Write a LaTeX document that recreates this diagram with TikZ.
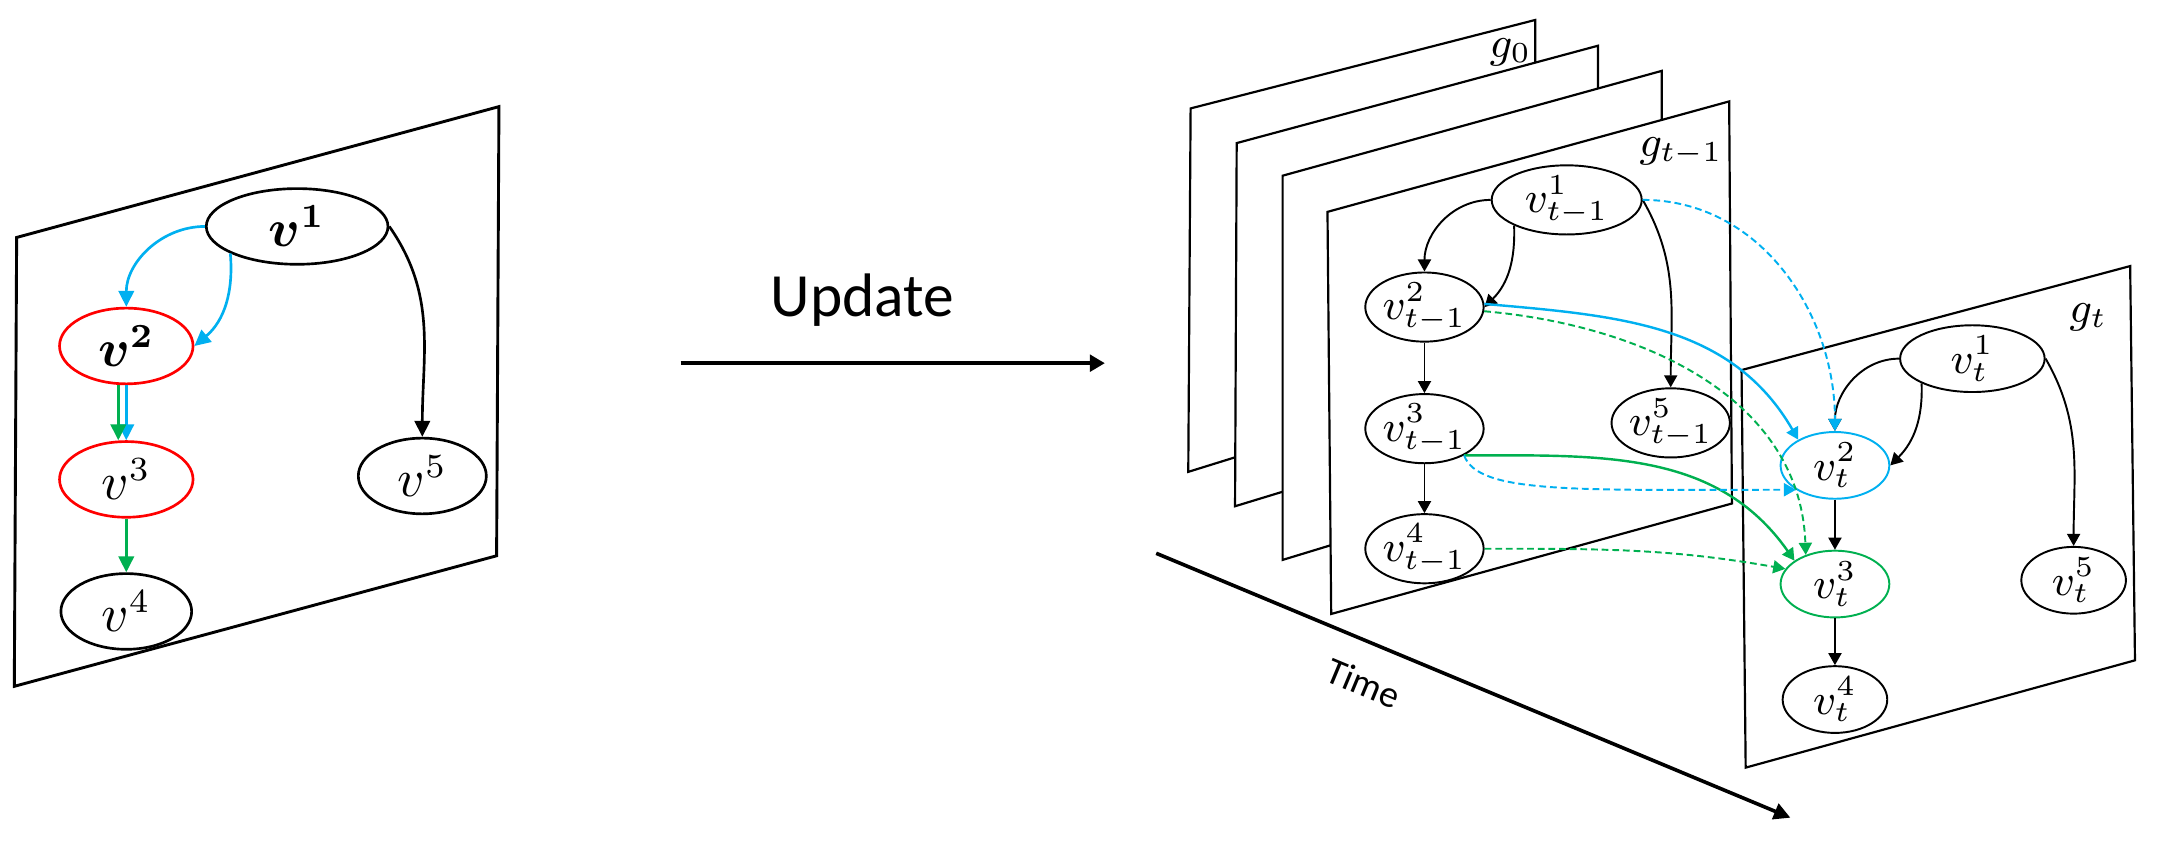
\documentclass[tikz,border=0pt]{standalone}
\usepackage{amsmath}
\usepackage{fontspec}
\newfontfamily\calibri{Carlito}
\usepackage{tikz}
\usetikzlibrary{arrows.meta,positioning,shapes.geometric}

\definecolor{myblue}{RGB}{0,176,240}
\definecolor{mygreen}{RGB}{0,176,80}

\tikzset{sheet/.style={draw, fill=white, line width=0.45pt, line join=miter}}
\tikzset{bigvert/.style={ellipse, draw, line width=0.55pt, inner sep=0pt,
		minimum width=0.97cm, minimum height=0.55cm, font=\fontsize{10.5}{12}\selectfont}}
\tikzset{boldvert/.style={bigvert, font=\fontsize{10.5}{12}\selectfont\boldmath}}
\tikzset{smallvert/.style={ellipse, draw, line width=0.4pt, inner sep=0pt,
		minimum width=0.8cm, minimum height=0.485cm, font=\fontsize{8.8}{10}\selectfont}}
\tikzset{glabel/.style={inner sep=0pt, font=\fontsize{8.7}{10}\selectfont}}
\tikzset{bigarr/.style={line width=0.55pt, -{Triangle[length=3.3pt,width=3.2pt]}}}
\tikzset{smallarr/.style={line width=0.4pt, -{Triangle[length=2.5pt,width=2.7pt]}}}
\tikzset{bluedash/.style={smallarr, myblue, dash pattern=on 1.4pt off 0.8pt}}
\tikzset{greendash/.style={smallarr, mygreen, dash pattern=on 1.4pt off 0.8pt}}

\begin{document}
\begin{tikzpicture}[x=0.01cm, y=0.01cm]
	\useasboundingbox (0,0) rectangle (1568,-620);

	% static graph
	\draw[sheet, line width=0.6pt] (12.1,-172.6) -- (362.7,-77.5) -- (361,-404) -- (10.4,-498.9) -- cycle;

	\node[boldvert, minimum width=1.32cm] (v1) at (216,-164.6) {$v^1$};
	\node[boldvert, draw=red] (v2) at (91.8,-251.5) {$v^2$};
	\node[bigvert, draw=red, below=0.4cm of v2] (v3) {$v^3$};
	\node[bigvert, minimum width=0.95cm, below=0.39cm of v3] (v4) {$v^4$};
	\node[bigvert, minimum width=0.93cm] (v5) at (307,-346) {$v^5$};

	\draw[bigarr, myblue] (v1.west) to[out=180,in=90] (v2.north);
	\draw[bigarr, myblue] (v1.202) to[out=-85,in=40] (v2.east);
	\draw[bigarr] (v1.east) to[out=-55,in=90] (v5.north);
	\draw[bigarr, myblue] (v2.south) -- (v3.north);
	\draw[bigarr, mygreen] ([xshift=-0.058cm]v2.south) -- ([xshift=-0.058cm]v3.north);
	\draw[bigarr, mygreen] (v3.south) -- (v4.north);

	% update
	\coordinate (ustart) at (494.8,-264);
	\coordinate (uend) at (803.2,-264);
	\draw[line width=0.8pt, -{Triangle[length=3.1pt,width=3.4pt]}] (ustart) -- (uend);
	\node[anchor=base, inner sep=0pt, font=\calibri\fontsize{12.7}{14}\selectfont] (upd) at (627,-230.2) {Update};

	% time axis
	\coordinate (tstart) at (840.5,-402.2);
	\coordinate (tend) at (1301.5,-594.4);
	\draw[line width=0.75pt, -{Triangle[length=3.4pt,width=3.4pt]}] (tstart) -- (tend);
	\node[rotate=-22.6, inner sep=0pt, font=\calibri\fontsize{7.8}{9}\selectfont] (tlbl) at (991,-496.7) {Time};

	% snapshots
	\draw[sheet] (865.5,-78.8) -- (1116,-14.5) -- (1116,-264.6) -- (863.8,-343) -- cycle;
	\draw[sheet] (899,-104) -- (1161.7,-33.2) -- (1161.7,-287.5) -- (897.8,-368) -- cycle;
	\draw[sheet] (932.4,-127.7) -- (1208,-51.5) -- (1208,-323) -- (932.4,-407) -- cycle;
	\draw[sheet] (965,-154) -- (1257,-73.7) -- (1259,-366) -- (967.7,-446.3) -- cycle;
	\draw[sheet] (1266,-269) -- (1548.5,-193.4) -- (1552,-480) -- (1269,-558) -- cycle;

	\node[glabel] (g0) at (1098,-38) {$g_0$};
	\node[glabel] (gprev) at (1222,-110) {$g_{t-1}$};
	\node[glabel] (gcur) at (1518,-231) {$g_t$};

	% snapshot t-1
	\node[smallvert, minimum width=1.09cm] (pv1) at (1138.9,-145.3) {$v^1_{t-1}$};
	\node[smallvert, minimum width=0.81cm] (pv2) at (1035.5,-223.2) {$v^2_{t-1}$};
	\node[smallvert, minimum width=0.81cm, below=0.367cm of pv2] (pv3) {$v^3_{t-1}$};
	\node[smallvert, minimum width=0.78cm, below=0.356cm of pv3] (pv4) {$v^4_{t-1}$};
	\node[smallvert, minimum width=0.775cm] (pv5) at (1214.5,-307.4) {$v^5_{t-1}$};

	\draw[smallarr] (pv1.west) to[out=180,in=90] (pv2.north);
	\draw[smallarr] (pv1.206) to[out=-88,in=45] (pv2.east);
	\draw[smallarr] (pv1.east) to[out=-60,in=90] (pv5.north);
	\draw[smallarr] (pv2.south) -- (pv3.north);
	\draw[smallarr] (pv3.south) -- (pv4.north);

	% snapshot t
	\node[smallvert, minimum width=1.05cm] (cv1) at (1433.8,-260.7) {$v^1_t$};
	\node[smallvert, minimum width=0.79cm, draw=myblue] (cv2) at (1333.9,-338.3) {$v^2_t$};
	\node[smallvert, minimum width=0.79cm, draw=mygreen, below=0.363cm of cv2] (cv3) {$v^3_t$};
	\node[smallvert, minimum width=0.76cm, below=0.34cm of cv3] (cv4) {$v^4_t$};
	\node[smallvert, minimum width=0.76cm] (cv5) at (1507.4,-421.8) {$v^5_t$};

	\draw[smallarr] (cv1.west) to[out=180,in=90] (cv2.north);
	\draw[smallarr] (cv1.206) to[out=-88,in=45] (cv2.east);
	\draw[smallarr] (cv1.east) to[out=-60,in=90] (cv5.north);
	\draw[smallarr] (cv2.south) -- (cv3.north);
	\draw[smallarr] (cv3.south) -- (cv4.north);

	% links between snapshots
	\draw[bluedash] (pv1.east) to[out=0,in=90] (cv2.north);
	\draw[smallarr, myblue, line width=0.5pt] (pv2.3) to[out=-5,in=120] (cv2.145);
	\draw[greendash] (pv2.-4) to[out=-5,in=92] (cv3.135);
	\draw[smallarr, mygreen, line width=0.5pt] (pv3.-34) to[out=0,in=125] (cv3.150);
	\draw[bluedash] (pv3.-34) to[out=-70,in=180,out distance=0.3cm,in distance=1.6cm] (cv2.212);
	\draw[greendash] (pv4.east) to[out=0,in=170] (cv3.163);
\end{tikzpicture}
\end{document}
